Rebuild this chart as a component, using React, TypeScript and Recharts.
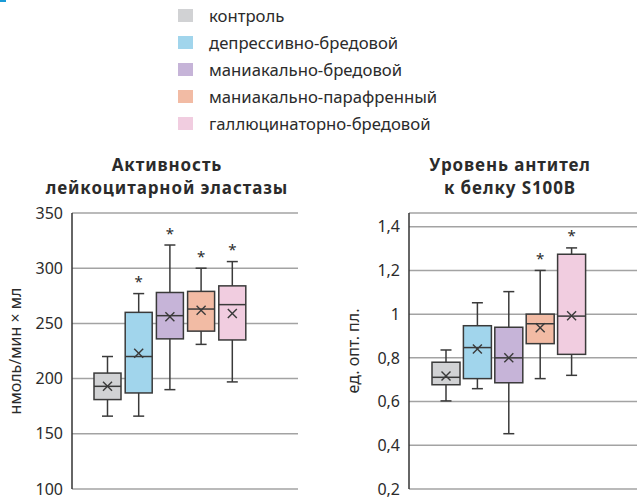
import React from "react";
import { ComposedChart, Bar, XAxis, YAxis, CartesianGrid } from "recharts";

const groups = [
  "контроль",
  "депрессивно-бредовой",
  "маниакально-бредовой",
  "маниакально-парафренный",
  "галлюцинаторно-бредовой",
];
const colors = ["#d1d2d4", "#a1d5ec", "#c6b4d8", "#f2bba4", "#f1cde0"];

// Активность лейкоцитарной эластазы
const elaMin = [166, 166, 190, 231, 197];
const elaQ1 = [181, 187, 236, 243, 235];
const elaMed = [193, 220, 257, 263, 267];
const elaQ3 = [205, 260, 278, 279, 284];
const elaMax = [220, 277, 321, 300, 306];
const elaMean = [193, 223, 256, 262, 259];
const elaSig = [false, true, true, true, true];
const elaTicks = [100, 150, 200, 250, 300, 350];

// Уровень антител к белку S100B
const sMin = [0.603, 0.659, 0.453, 0.705, 0.72];
const sQ1 = [0.677, 0.705, 0.686, 0.865, 0.816];
const sMed = [0.711, 0.847, 0.8, 0.956, 0.991];
const sQ3 = [0.78, 0.947, 0.94, 1.0, 1.274];
const sMax = [0.836, 1.052, 1.103, 1.2, 1.303];
const sMean = [0.717, 0.84, 0.8, 0.938, 0.993];
const sSig = [false, false, false, true, true];
const sTicks = [0.2, 0.4, 0.6, 0.8, 1, 1.2, 1.4];

const elaTitle = ["Активность", "лейкоцитарной эластазы"];
const sTitle = ["Уровень антител", "к белку S100B"];

const build = (mn: number[], q1: number[], med: number[], q3: number[], mx: number[], mean: number[], sig: boolean[]) =>
  groups.map((name, i) => ({
    name, color: colors[i],
    min: mn[i], q1: q1[i], med: med[i], q3: q3[i], max: mx[i], mean: mean[i], sig: sig[i],
  }));

const elaData = build(elaMin, elaQ1, elaMed, elaQ3, elaMax, elaMean, elaSig);
const sData = build(sMin, sQ1, sMed, sQ3, sMax, sMean, sSig);

const INK = "#3a3a3a";
const TEXT = "#2b2b2b";

// whole box drawn from the range bar [min, max]
const BoxShape = (props: any) => {
  const { x, y, width, height, payload } = props;
  const p = payload;
  const k = height / (p.max - p.min);
  const py = (v: number) => y + (p.max - v) * k;
  const cx = x + width / 2;
  const cap = 5.5;
  const m = 4.5;
  const my = py(p.mean);
  return (
    <g>
      <line x1={cx} x2={cx} y1={py(p.max)} y2={py(p.min)} stroke={INK} strokeWidth={1.5} />
      <line x1={cx - cap} x2={cx + cap} y1={py(p.max)} y2={py(p.max)} stroke={INK} strokeWidth={1.5} />
      <line x1={cx - cap} x2={cx + cap} y1={py(p.min)} y2={py(p.min)} stroke={INK} strokeWidth={1.5} />
      <rect x={x} y={py(p.q3)} width={width} height={py(p.q1) - py(p.q3)} fill={p.color} stroke={INK} strokeWidth={1.5} />
      <line x1={x} x2={x + width} y1={py(p.med)} y2={py(p.med)} stroke={INK} strokeWidth={1.5} />
      <line x1={cx - m} x2={cx + m} y1={my - m} y2={my + m} stroke={INK} strokeWidth={1.4} />
      <line x1={cx - m} x2={cx + m} y1={my + m} y2={my - m} stroke={INK} strokeWidth={1.4} />
      {p.sig && (
        <text x={cx} y={py(p.max) - 6.5} textAnchor="middle" fontSize={15} fill={TEXT}>*</text>
      )}
    </g>
  );
};

const fmtComma = (v: number) => String(Math.round(v * 10) / 10).replace(".", ",");

const tick = { fill: TEXT, fontSize: 16 };

const Title = ({ lines, left }: { lines: string[]; left: number }) => (
  <div style={{ position: "absolute", left, width: 300, top: 153, textAlign: "center", fontWeight: 700, fontSize: 17, letterSpacing: 0.9 }}>
    {lines.map(l => (
      <div key={l} style={{ height: 23.3, lineHeight: "23.3px", whiteSpace: "nowrap" }}>{l}</div>
    ))}
  </div>
);

export default function App() {
  return (
    <div style={{ position: "absolute", left: 0, top: 0, width: 637, height: 499, background: "#fff", fontFamily: "'Noto Sans', sans-serif", color: TEXT, overflow: "hidden" }}>
      <div style={{ position: "absolute", left: 0, top: 0, width: 6, height: 2, background: "#1a9bd7" }} />

      {/* legend */}
      <div style={{ position: "absolute", left: 178, top: 1.5 }}>
        {groups.map((g, i) => (
          <div key={g} style={{ height: 27, display: "flex", alignItems: "center" }}>
            <span style={{ width: 15, height: 13, background: colors[i], display: "inline-block" }} />
            <span style={{ marginLeft: 16, fontSize: 16.7, lineHeight: "27px" }}>{g}</span>
          </div>
        ))}
      </div>

      {/* titles */}
      <Title lines={elaTitle} left={17} />
      <Title lines={sTitle} left={360} />

      <div style={{ position: "absolute", left: 0, top: 200 }}>
        <ComposedChart width={320} height={299} data={elaData} margin={{ top: 13, right: 22, bottom: 10, left: 0 }}>
          <CartesianGrid vertical={false} stroke="#a3a3a3" strokeWidth={1.5} />
          <XAxis dataKey="name" hide padding={{ left: 20, right: 50 }} />
          <YAxis domain={[100, 350]} ticks={elaTicks} width={72} tick={tick} tickLine={false}
            axisLine={{ stroke: "#333", strokeWidth: 1.5 }} tickMargin={3}
            label={{ value: "нмоль/мин × мл", angle: -90, position: "center", dx: -21, fill: TEXT, fontSize: 16 }} />
          <Bar dataKey={(d: any) => [d.min, d.max]} barSize={27} shape={<BoxShape />} isAnimationActive={false} />
        </ComposedChart>
      </div>

      <div style={{ position: "absolute", left: 320, top: 200 }}>
        <ComposedChart width={317} height={299} data={sData} margin={{ top: 13, right: 0, bottom: 10, left: 0 }}>
          <CartesianGrid vertical={false} stroke="#a3a3a3" strokeWidth={1.5} />
          <XAxis dataKey="name" hide padding={{ left: 21, right: 50 }} />
          <YAxis domain={[0.2, 1.4627]} ticks={sTicks} width={89} tick={tick} tickLine={false}
            tickFormatter={fmtComma} axisLine={{ stroke: "#333", strokeWidth: 1.5 }} tickMargin={3}
            allowDataOverflow
            label={{ value: "ед. опт. пл.", angle: -90, position: "center", dx: -11.5, fill: TEXT, fontSize: 16 }} />
          <Bar dataKey={(d: any) => [d.min, d.max]} barSize={28} shape={<BoxShape />} isAnimationActive={false} />
        </ComposedChart>
      </div>
    </div>
  );
}
